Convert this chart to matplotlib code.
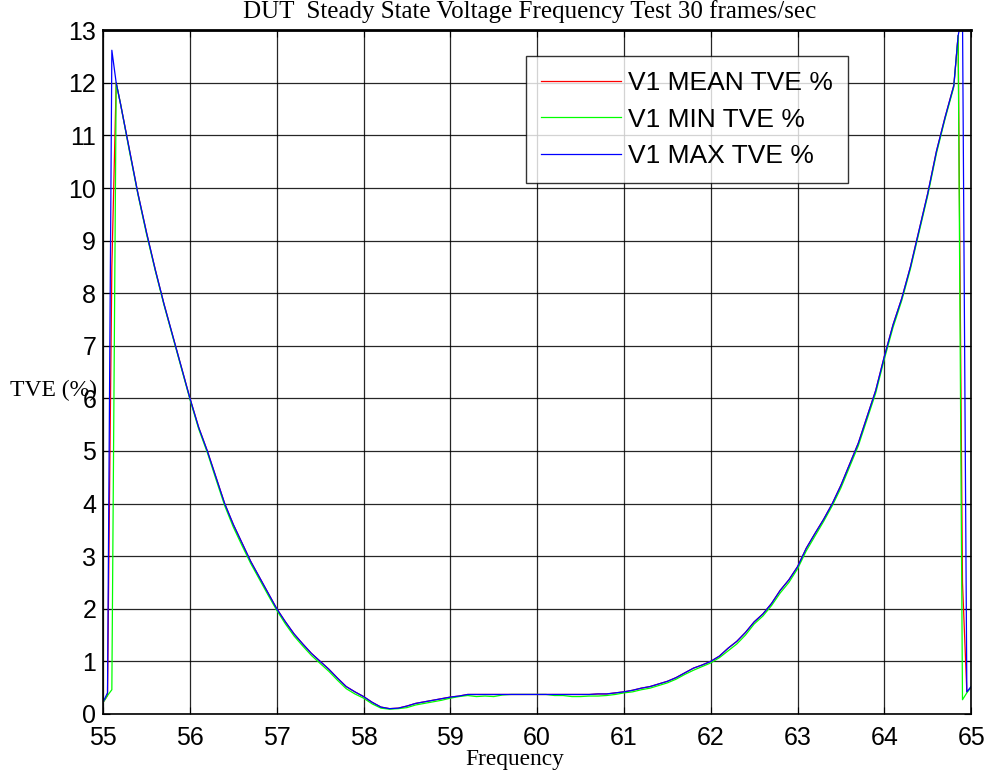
"""
DUT steady state voltage frequency test - TVE vs frequency
"""

import numpy as np
import matplotlib
matplotlib.use("Agg")
import matplotlib.pyplot as plt

# frequency points: fine steps at the edges, 0.1 Hz in between
freq_left = [55.0, 55.05, 55.1, 55.15]
freq_core = np.round(np.arange(55.2, 64.8001, 0.1), 2)
freq_right = [64.85, 64.9, 64.95, 65.0]
freq = np.concatenate([freq_left, freq_core, freq_right])

# shared TVE curve (55.2 .. 64.8 Hz)
tve_core = [11.6, 10.75, 9.9, 9.15, 8.45, 7.8, 7.2, 6.6, 6.0, 5.45,
            5.0, 4.5, 4.0, 3.6, 3.25, 2.9, 2.6, 2.3, 2.0, 1.75,
            1.52, 1.33, 1.15, 1.0, 0.85, 0.68, 0.52, 0.42, 0.33, 0.22,
            0.13, 0.1, 0.11, 0.15, 0.2, 0.23, 0.26, 0.29, 0.32, 0.34,
            0.37,
            0.37, 0.37, 0.37, 0.37, 0.37, 0.37, 0.37, 0.37, 0.37, 0.37,
            0.37, 0.37, 0.37, 0.37,
            0.38, 0.38, 0.4, 0.42, 0.45, 0.49, 0.52, 0.57, 0.62, 0.69,
            0.78, 0.87, 0.93, 1.0, 1.1, 1.25, 1.38, 1.55, 1.75, 1.9,
            2.1, 2.35, 2.55, 2.8, 3.15, 3.43, 3.7, 4.0, 4.35, 4.75,
            5.15, 5.65, 6.15, 6.8, 7.4, 7.9, 8.5, 9.2, 9.9, 10.7,
            11.35, 11.95]

# min curve sits a touch lower in places
tve_min_core = [11.6, 10.72, 9.88, 9.12, 8.43, 7.78, 7.18, 6.58, 5.98, 5.42,
                4.97, 4.46, 3.96, 3.55, 3.2, 2.86, 2.56, 2.26, 1.97, 1.71,
                1.48, 1.29, 1.11, 0.96, 0.81, 0.64, 0.48, 0.38, 0.3, 0.19,
                0.11, 0.09, 0.1, 0.12, 0.17, 0.2, 0.23, 0.26, 0.3, 0.33,
                0.35,
                0.33, 0.34, 0.33, 0.36, 0.37, 0.37, 0.37, 0.37, 0.37, 0.35,
                0.35, 0.33, 0.33, 0.34,
                0.34, 0.35, 0.37, 0.4, 0.42, 0.46, 0.49, 0.54, 0.59, 0.66,
                0.75, 0.83, 0.9, 0.97, 1.07, 1.2, 1.33, 1.5, 1.71, 1.86,
                2.06, 2.3, 2.5, 2.76, 3.1, 3.38, 3.66, 3.96, 4.3, 4.7,
                5.1, 5.6, 6.1, 6.75, 7.35, 7.86, 8.46, 9.16, 9.86, 10.66,
                11.32, 11.92]

tve_mean = [0.22, 0.35, 8.5, 12.0] + tve_core + [12.9, 2.5, 0.42, 0.5]
tve_min = [0.22, 0.35, 0.46, 12.0] + tve_min_core + [12.9, 0.27, 0.4, 0.52]
tve_max = [0.23, 0.4, 12.62, 12.0] + tve_core + [12.9, 13.3, 0.42, 0.52]

series_labels = ['V1 MEAN TVE %', 'V1 MIN TVE %', 'V1 MAX TVE %']
series_colors = ['#ff0000', '#00ff00', '#0000ff']

fig = plt.figure(figsize=(9.92, 7.76), dpi=100)
ax = fig.add_axes([0.104, 0.080, 0.875, 0.881])

for vals, lab, col in zip([tve_mean, tve_min, tve_max], series_labels, series_colors):
    ax.plot(freq, vals, color=col, linewidth=0.9, label=lab)

ax.set_xlim(55, 65)
ax.set_ylim(0, 13)
ax.set_xticks(np.arange(55, 66, 1))
ax.set_yticks(np.arange(0, 14, 1))
ax.grid(True, color='black', linewidth=0.9, alpha=0.85)
ax.tick_params(direction='in', length=5, labelsize=18, top=True, right=True)
ax.tick_params(axis='x', pad=9)
ax.tick_params(axis='y', pad=5)
for lbl in ax.get_xticklabels() + ax.get_yticklabels():
    lbl.set_family('Liberation Sans')
for sp in ax.spines.values():
    sp.set_linewidth(1.2)
ax.spines['top'].set_linewidth(2.0)

leg = ax.legend(loc='upper left', bbox_to_anchor=(0.487, 0.962),
                prop={'family': 'Liberation Sans', 'size': 19},
                frameon=True, fancybox=False, edgecolor='black',
                handlelength=3.05, borderpad=0.56, labelspacing=0.48,
                handletextpad=0.27, borderaxespad=0)
leg.get_frame().set_linewidth(1.0)

fig.text(530 / 992, 1 - 12 / 776, 'DUT  Steady State Voltage Frequency Test 30 frames/sec',
         family='Liberation Serif', fontsize=18, ha='center', va='center')
fig.text(515 / 992, 1 - 759 / 776, 'Frequency', family='Liberation Serif',
         fontsize=16.8, ha='center', va='center')
fig.text(10 / 992, 1 - 390 / 776, 'TVE (%)', family='Liberation Serif',
         fontsize=17, ha='left', va='center')

fig.savefig('out.png', dpi=100)
